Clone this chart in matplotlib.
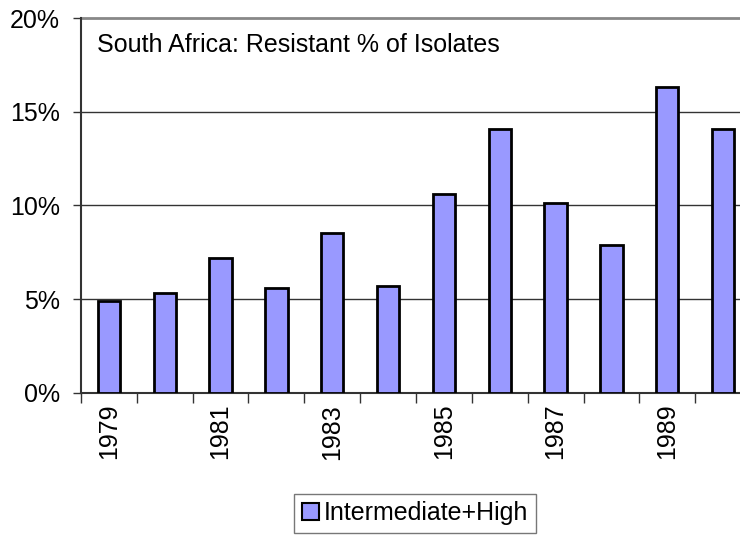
import matplotlib
matplotlib.use("Agg")
import matplotlib.pyplot as plt
from matplotlib.patches import Patch
import numpy as np

years = [1979, 1980, 1981, 1982, 1983, 1984, 1985, 1986, 1987, 1988, 1989, 1990]
values = [4.9, 5.3, 7.2, 5.6, 8.5, 5.7, 10.6, 14.1, 10.1, 7.9, 16.3, 14.1]
year_labels = ["1979", "", "1981", "", "1983", "", "1985", "", "1987", "", "1989", ""]
yticks = [0, 5, 10, 15, 20]
ytick_labels = ["0%", "5%", "10%", "15%", "20%"]
series_name = "Intermediate+High"
title = "South Africa: Resistant % of Isolates"

plt.rcParams['font.family'] = ['Liberation Sans', 'DejaVu Sans']
FS = 18

fig = plt.figure(figsize=(7.4, 5.36), dpi=100)
ax = fig.add_axes([81/740, 1 - 392.7/536, 670/740, (392.7 - 18)/536])

x = np.arange(len(years))
ax.bar(x, values, width=0.4, color="#9999FF", edgecolor="black", linewidth=2, zorder=3)

ax.set_xlim(-0.5, len(years) - 0.5)
ax.set_ylim(0, 20)
ax.set_yticks(yticks)
ax.set_yticklabels(ytick_labels, fontsize=FS)
for yv in yticks[1:-1]:
    ax.axhline(yv, color="#333333", linewidth=1, zorder=1)
ax.axhline(20, color="#888888", linewidth=2, zorder=1, clip_on=False)

ax.set_xticks(x)
ax.set_xticklabels(year_labels, rotation=90, fontsize=FS)
ax.tick_params(axis='x', length=0, pad=8)
ax.set_xticks(np.arange(-0.5, len(years), 1), minor=True)
ax.tick_params(axis='x', which='minor', length=7, width=1, color="#333333", direction='out')
ax.tick_params(axis='y', length=6, width=1, color="#333333", direction='out', pad=9)

for s in ['top', 'right']:
    ax.spines[s].set_visible(False)
ax.spines['left'].set_color("#333333")
ax.spines['left'].set_linewidth(1.5)
ax.spines['bottom'].set_color("#333333")
ax.spines['bottom'].set_linewidth(1.5)

ax.text(97/740, 1 - 45/536, title, transform=fig.transFigure, fontsize=FS, va='center', ha='left')

handle = Patch(facecolor="#9999FF", edgecolor="black", linewidth=1.5)
leg = fig.legend([handle], [series_name], loc='center', bbox_to_anchor=(415/740, 1 - 513/536),
                 fontsize=FS, frameon=True, fancybox=False, edgecolor="#555555",
                 handlelength=0.7, handleheight=0.7, handletextpad=0.2, borderpad=0.3,
                 borderaxespad=0)
leg.get_frame().set_linewidth(1)

fig.savefig("out.png", dpi=100)
